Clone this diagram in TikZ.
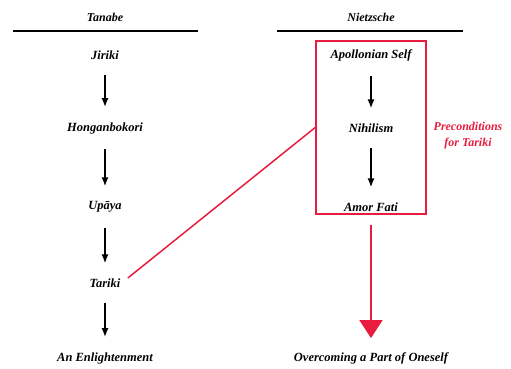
\documentclass[tikz,border=0pt]{standalone}
\usepackage{fontspec}
\setmainfont{Liberation Serif}
\usetikzlibrary{arrows.meta}
\definecolor{precond}{RGB}{232,28,62}
\tikzset{
  stage/.style={font=\bfseries\itshape\fontsize{12.5}{14}\selectfont, inner sep=1pt},
  head/.style={font=\bfseries\itshape\fontsize{12}{14}\selectfont, inner sep=1pt},
  flow/.style={-{Latex[length=9pt,width=7pt]}, line width=1.6pt, shorten <=14pt, shorten >=14pt},
}
\begin{document}
\begin{tikzpicture}[x=1pt,y=-1pt]
  \useasboundingbox (0,0) rectangle (511,368);
  % column heads
  \node[head] (tanabe) at (105,17) {Tanabe};
  \node[head] (nietzsche) at (371,17) {Nietzsche};
  \draw[line width=1.6pt] (13,31) -- (198,31);
  \draw[line width=1.6pt] (277,31) -- (463,31);
  % Tanabe
  \node[stage] (jiriki) at (105,55) {Jiriki};
  \node[stage] (hongan) at (105,128) {Honganbokori};
  \node[stage] (upaya) at (105,207) {Up\={a}ya};
  \node[stage] (tariki) at (105,283) {Tariki};
  \node[stage] (enlight) at (105,358) {An Enlightenment};
  % Nietzsche
  \node[stage] (apollo) at (371,55) {Apollonian Self};
  \node[stage] (nihil) at (371,128) {Nihilism};
  \node[stage] (amor) at (371,207) {Amor Fati};
  \node[stage] (overcome) at (371,358) {Overcoming a Part of Oneself};
  \foreach \a/\b in {jiriki/hongan,hongan/upaya,upaya/tariki,tariki/enlight,apollo/nihil,nihil/amor}
    \draw[flow] (\a) -- (\b);
  % preconditions
  \node[draw=precond, line width=1.6pt, minimum width=110pt, minimum height=173pt] (frame) at (371,127.5) {};
  \node[stage, text=precond, align=center, font=\bfseries\itshape\fontsize{12}{16}\selectfont] (precond) at (468,136) {Preconditions\\for Tariki};
  \draw[precond, line width=1.5pt, shorten <=8pt] (tariki.east) -- (frame.west);
  \draw[precond, line width=1.8pt, -{Triangle[length=18pt,width=23pt]}, shorten <=10pt, shorten >=13pt] (frame.south) -- (overcome);
\end{tikzpicture}
\end{document}
